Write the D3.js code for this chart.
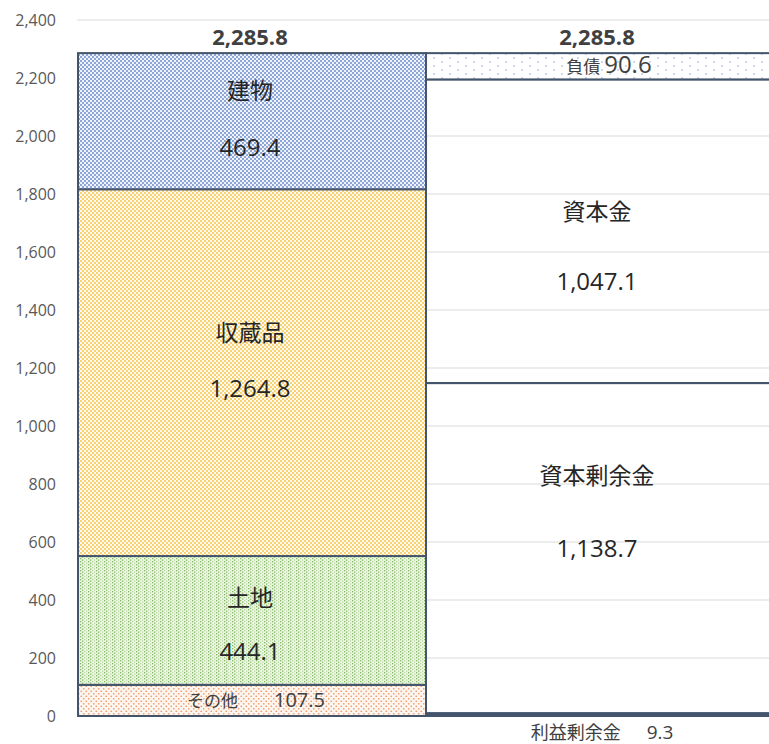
<!DOCTYPE html>
<html><head><meta charset="utf-8">
<script src="https://cdn.jsdelivr.net/npm/d3@7"></script>
<style>
html,body{margin:0;padding:0;background:#fff;}
svg{display:block;}
text{font-family:"Noto Sans CJK JP","Open Sans",sans-serif;}
</style></head>
<body>
<svg id="chart" width="769" height="744"></svg>
<script>
// Data
const columns = ["資産", "負債・純資産"];
const assetNames = ["その他", "土地", "収蔵品", "建物"];
const assetValues = [107.5, 444.1, 1264.8, 469.4];
const liabNames = ["利益剰余金", "資本剰余金", "資本金", "負債"];
const liabValues = [9.3, 1138.7, 1047.1, 90.6];
const totals = [2285.8, 2285.8];
const yTicks = [0, 200, 400, 600, 800, 1000, 1200, 1400, 1600, 1800, 2000, 2200, 2400];

const svg = d3.select("#chart");
const W = 769, H = 744;
const y = d3.scaleLinear().domain([0, 2400]).range([716, 20]);
const x = d3.scaleBand().domain(columns).range([78, 774]).padding(0);
const fmt = d3.format(",.1f");
const numFont = "'Open Sans','Noto Sans',sans-serif";

// Patterns
const defs = svg.append("defs");
function dotPattern(id, color, size, r, bg) {
  const p = defs.append("pattern").attr("id", id).attr("patternUnits", "userSpaceOnUse")
    .attr("width", size).attr("height", size);
  p.append("rect").attr("width", size).attr("height", size).attr("fill", bg);
  p.append("circle").attr("cx", size/4).attr("cy", size/4).attr("r", r).attr("fill", color);
  p.append("circle").attr("cx", 3*size/4).attr("cy", 3*size/4).attr("r", r).attr("fill", color);
  return "url(#" + id + ")";
}
const fills = {
  "建物": dotPattern("pBlue", "#5f82c6", 4, 0.9, "#f0f3fa"),
  "収蔵品": dotPattern("pYellow", "#f5c23c", 4, 0.95, "#fffaf0"),
  "その他": dotPattern("pOrange", "#ee9a66", 5, 0.85, "#fdf5ef")
};
(function(){
  const p = defs.append("pattern").attr("id","pDebt").attr("patternUnits","userSpaceOnUse")
    .attr("width",16).attr("height",8);
  p.append("rect").attr("width",16).attr("height",8).attr("fill","#fff");
  p.append("circle").attr("cx",2).attr("cy",2).attr("r",0.7).attr("fill","#7c96c8");
  p.append("circle").attr("cx",10).attr("cy",6).attr("r",0.7).attr("fill","#7c96c8");
  fills["負債"] = "url(#pDebt)";
})();
(function(){
  const p = defs.append("pattern").attr("id","pGreen").attr("patternUnits","userSpaceOnUse")
    .attr("width",8).attr("height",3);
  p.append("rect").attr("width",8).attr("height",3).attr("fill","#edf5e6");
  p.append("rect").attr("x",0).attr("y",0).attr("width",1.3).attr("height",1.3).attr("fill","#83b95e");
  p.append("rect").attr("x",2).attr("y",1.5).attr("width",1.3).attr("height",1.3).attr("fill","#83b95e");
  p.append("rect").attr("x",4).attr("y",0).attr("width",1.2).attr("height",1.2).attr("fill","#b3d69a");
  p.append("rect").attr("x",6).attr("y",1.5).attr("width",1.2).attr("height",1.2).attr("fill","#b3d69a");
  fills["土地"] = "url(#pGreen)";
})();

// Gridlines
svg.append("g").selectAll("line").data(yTicks.slice(1)).join("line")
  .attr("x1", 77).attr("x2", W).attr("y1", d => y(d)).attr("y2", d => y(d))
  .attr("stroke", "#d9d9d9").attr("stroke-width", 1);

// Y axis labels
const yAxis = d3.axisLeft(y).tickValues(yTicks).tickFormat(d3.format(",")).tickSize(0).tickPadding(0);
const ya = svg.append("g").attr("transform", "translate(56,0)").call(yAxis);
ya.select(".domain").remove();
ya.selectAll("text").attr("fill", "#595959").style("font-size", "16px")
  .style("font-family", numFont).attr("dy", "0.32em");

// stacking
function stackData(names, values) {
  let acc = 0;
  return names.map((n, i) => { const s = acc; acc += values[i]; return {name: n, value: values[i], y0: s, y1: acc}; });
}
const left = stackData(assetNames, assetValues);
const right = stackData(liabNames, liabValues);

const stroke = "#44546a";
svg.append("g").selectAll("rect").data(left).join("rect")
  .attr("x", x(columns[0])).attr("width", x.bandwidth())
  .attr("y", d => y(d.y1)).attr("height", d => y(d.y0) - y(d.y1))
  .attr("fill", d => fills[d.name]).attr("stroke", stroke).attr("stroke-width", 2);
svg.append("g").selectAll("rect").data(right).join("rect")
  .attr("x", x(columns[1])).attr("width", x.bandwidth())
  .attr("y", d => y(d.y1)).attr("height", d => Math.max(0, y(d.y0) - y(d.y1)))
  .attr("fill", d => fills[d.name] || "none").attr("stroke", stroke).attr("stroke-width", 2);
svg.append("rect").attr("x", x(columns[1])).attr("width", x.bandwidth())
  .attr("y", y(right[0].y1)).attr("height", y(right[0].y0) - y(right[0].y1))
  .attr("fill", stroke);

// labels
const lab = svg.append("g").attr("text-anchor", "middle").attr("fill", "#262626");
const cL = x(columns[0]) + x.bandwidth() / 2 - 2;
const cR = x(columns[1]) + x.bandwidth() / 2 - 3;
totals.forEach((t, i) => {
  lab.append("text").attr("x", i === 0 ? cL : cR).attr("y", y(t) - 16).attr("dy", "0.36em")
    .attr("font-weight", "bold").style("font-size", "22px").attr("fill", "#404040")
    .style("font-family", numFont).text(fmt(t));
});
function twoLine(cx, d, nameOff, valOff) {
  const mid = (y(d.y0) + y(d.y1)) / 2;
  lab.append("text").attr("x", cx).attr("y", mid + nameOff).attr("dy", "0.36em").style("font-size", "23px").text(d.name);
  lab.append("text").attr("x", cx).attr("y", mid + valOff).attr("dy", "0.36em").style("font-size", "24px")
    .style("font-family", numFont).text(fmt(d.value));
}
twoLine(cL, left[3], -30, 26);
twoLine(cL, left[2], -40, 16);
twoLine(cL, left[1], -23, 31);
twoLine(cR, right[2], -20, 50);
twoLine(cR, right[1], -72, 0);
// その他
{
  const d = left[0];
  const mid = (y(d.y0) + y(d.y1)) / 2;
  const t = lab.append("text").attr("x", cL + 6).attr("y", mid).attr("dy", "0.36em").attr("fill", "#404040").style("font-size", "17px");
  t.append("tspan").text(d.name);
  t.append("tspan").attr("dx", 36).style("font-size", "20px").style("font-family", numFont).text(fmt(d.value));
}
// 負債
{
  const d = right[3];
  const mid = (y(d.y0) + y(d.y1)) / 2;
  const t = lab.append("text").attr("x", cR + 12).attr("y", mid + 1).attr("dy", "0.36em").attr("fill", "#404040");
  t.append("tspan").style("font-size", "17px").text(d.name + " ");
  t.append("tspan").style("font-size", "24px").style("font-family", numFont).text(fmt(d.value));
}
// 利益剰余金 below axis
{
  const d = right[0];
  const t = lab.append("text").attr("x", cR + 5).attr("y", y(0) + 17).attr("dy", "0.36em").attr("fill", "#404040").style("font-size", "18px");
  t.append("tspan").text(d.name);
  t.append("tspan").attr("dx", 26).style("font-size", "19px").style("font-family", numFont).text(fmt(d.value));
}
</script>
</body></html>
